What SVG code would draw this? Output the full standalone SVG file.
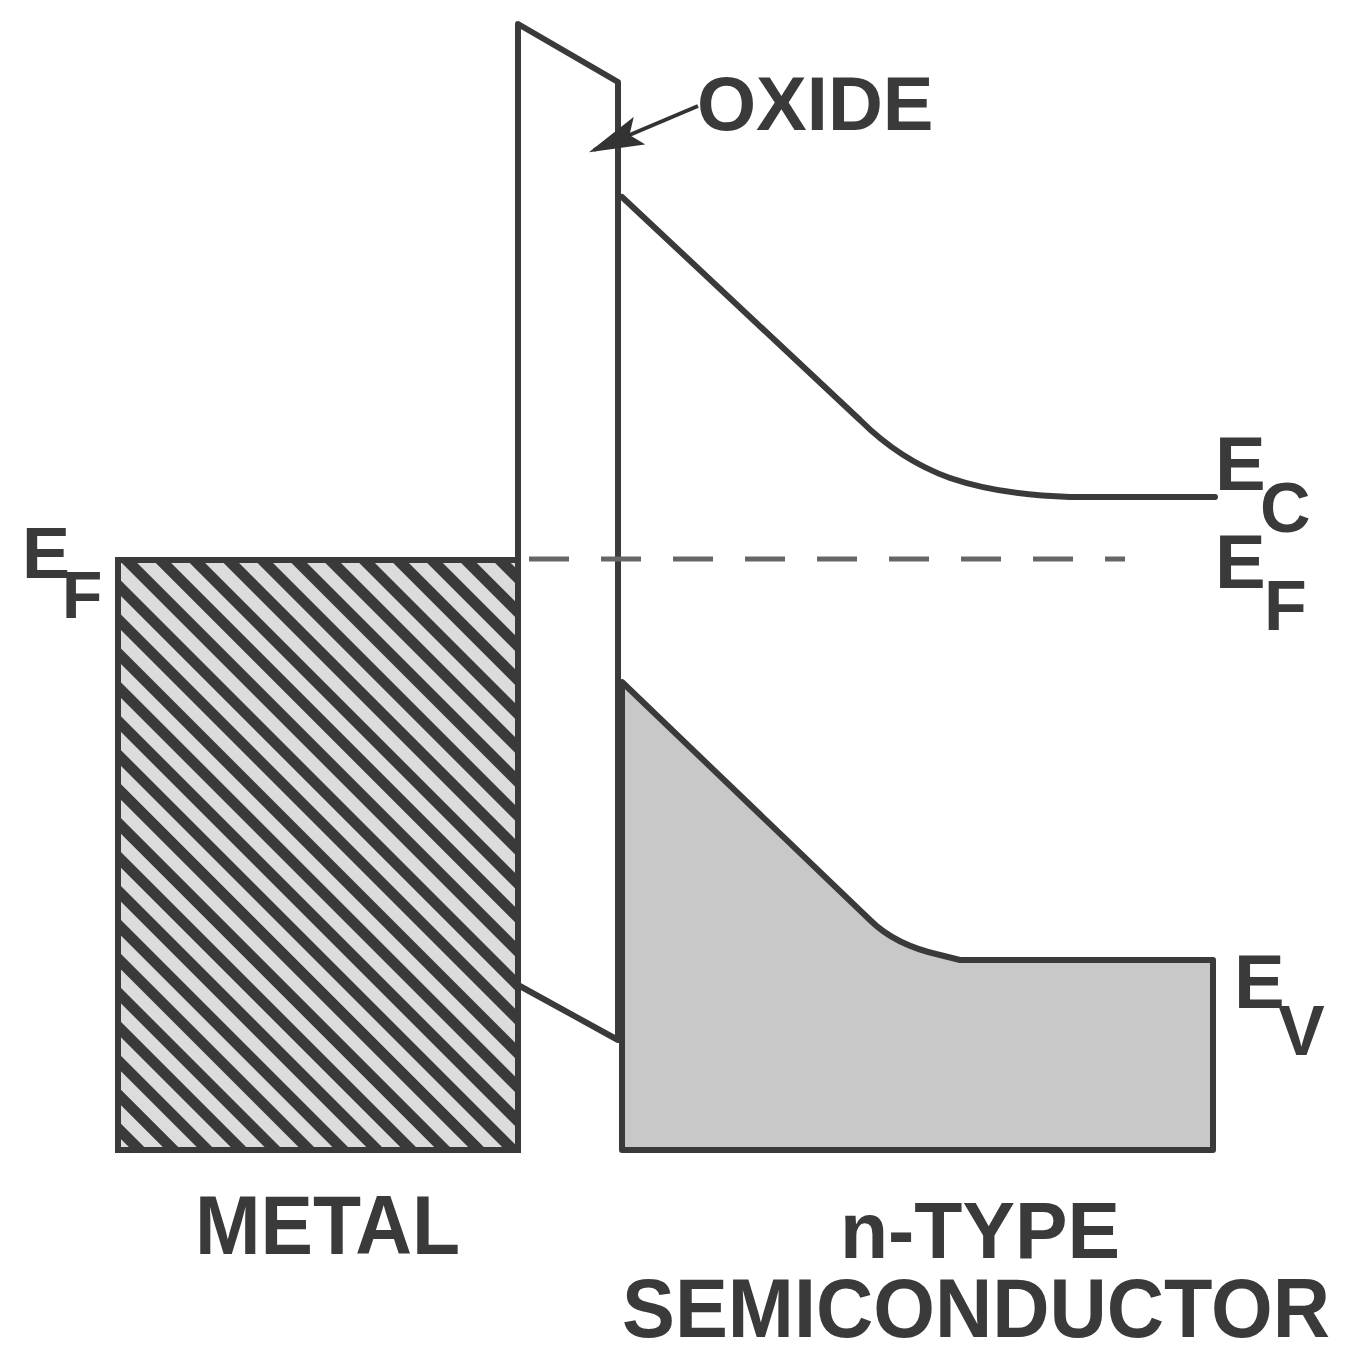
<svg xmlns="http://www.w3.org/2000/svg" width="1370" height="1363" viewBox="0 0 1370 1363">
<defs>
<pattern id="hatch" patternUnits="userSpaceOnUse" width="24" height="24" patternTransform="rotate(-45)">
<rect width="24" height="24" fill="#dcdcdc"/>
<rect x="0" y="0" width="11" height="24" fill="#3a3a3a"/>
</pattern>
<marker id="ah" viewBox="0 0 10 10" refX="9" refY="5" markerWidth="55" markerHeight="30" orient="auto" markerUnits="userSpaceOnUse" preserveAspectRatio="none">
<path d="M0,0 L10,5 L0,10 L2,5 Z" fill="#333"/>
</marker>
<style>
.ln{fill:none;stroke:#3a3a3a;stroke-width:6;stroke-linejoin:round;stroke-linecap:round}
.lb{font-family:"Liberation Sans",Arial,sans-serif;font-weight:bold;fill:#3a3a3a}
</style>
</defs>
<rect width="1370" height="1363" fill="#fff"/>
<g id="metal">
<rect x="118" y="560" width="400" height="590" fill="url(#hatch)" stroke="#3a3a3a" stroke-width="6"/>
</g>
<g id="semiconductor">
<path d="M622,682 L870,920 Q895,945 940,955 L960,960 L1213,960 L1213,1150 L622,1150 Z" fill="#c8c8c8" stroke="#3a3a3a" stroke-width="6" stroke-linejoin="round"/>
<path class="ln" d="M622,197 L860,420 Q900,460 950,478 Q1000,495 1070,497 L1215,497"/>
</g>
<g id="oxide">
<path class="ln" d="M518,560 L518,24 L618,82 L618,1040 L518,985"/>
</g>
<g id="connectors">
<line x1="529" y1="559" x2="1125" y2="559" stroke="#666" stroke-width="5" stroke-dasharray="40 32"/>
<line x1="698" y1="106" x2="594" y2="150" stroke="#333" stroke-width="4" marker-end="url(#ah)"/>
</g>
<g id="labels">
<text class="lb" x="697" y="130" font-size="76">OXIDE</text>
<text class="lb" x="22" y="578" font-size="72">E</text>
<text class="lb" x="62" y="618" font-size="66">F</text>
<text class="lb" x="1215" y="490" font-size="76">E</text>
<text class="lb" x="1260" y="532" font-size="70">C</text>
<text class="lb" x="1215" y="588" font-size="76">E</text>
<text class="lb" x="1264" y="630" font-size="70">F</text>
<text class="lb" x="1234" y="1008" font-size="76">E</text>
<text class="lb" x="1278" y="1055" font-size="70">V</text>
<text class="lb" x="195" y="1254" font-size="84" textLength="265" lengthAdjust="spacingAndGlyphs">METAL</text>
<text class="lb" x="840" y="1258" font-size="80" textLength="280" lengthAdjust="spacingAndGlyphs">n-TYPE</text>
<text class="lb" x="622" y="1337" font-size="84" textLength="708" lengthAdjust="spacingAndGlyphs">SEMICONDUCTOR</text>
</g>
</svg>
